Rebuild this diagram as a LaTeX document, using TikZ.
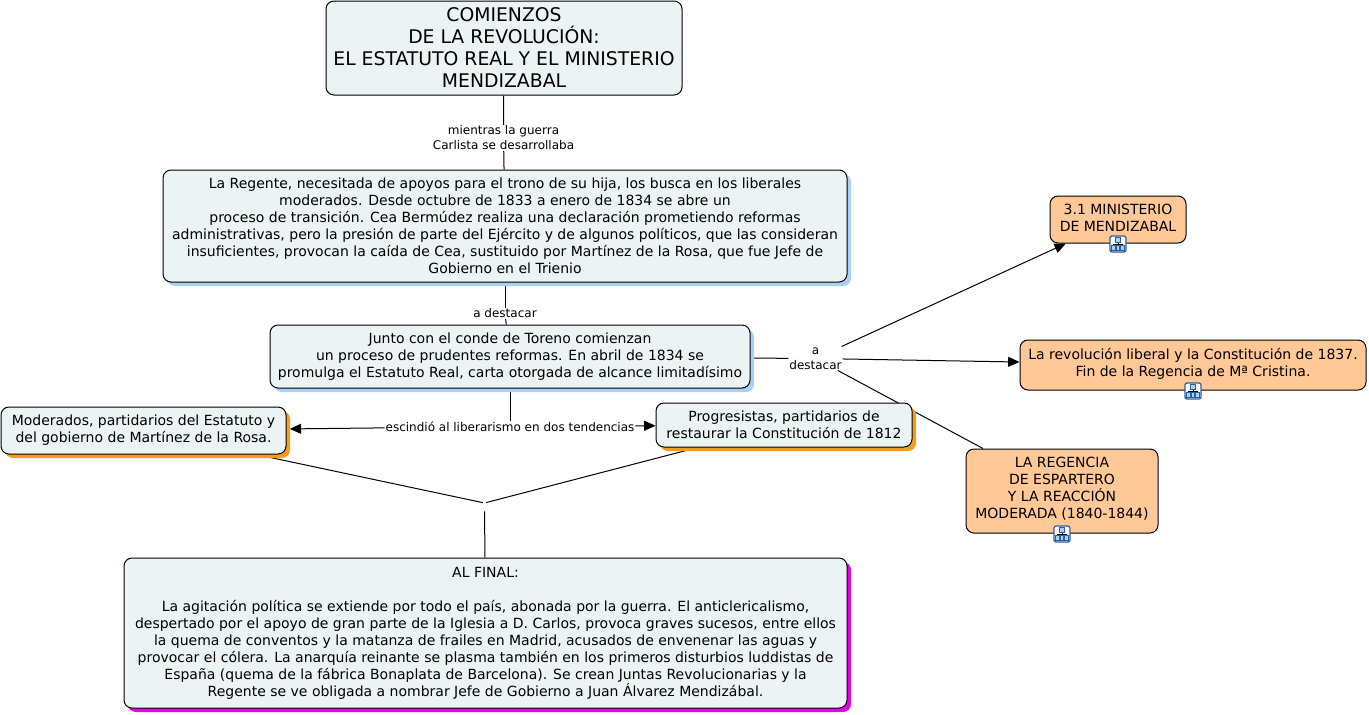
\documentclass[tikz,border=0pt]{standalone}
\usepackage{fontspec}
\setmainfont{DejaVu Sans}
\usetikzlibrary{arrows.meta,shadows,backgrounds}
\definecolor{boxgrey}{HTML}{ECF3F5}
\definecolor{boxpeach}{HTML}{FFC896}
\definecolor{shadeblue}{HTML}{A9D0F5}
\definecolor{shadeorange}{HTML}{F59E1B}
\definecolor{shademagenta}{HTML}{E400E4}
\definecolor{iconblue}{HTML}{2F5F9A}
\definecolor{iconpale}{HTML}{A9D0F5}
\tikzset{
  concept/.style={draw=black,line width=0.75pt,rounded corners=6pt,inner sep=0pt,align=center,font=\fontsize{10.5}{12.75}\selectfont},
  greybox/.style={concept,fill=boxgrey},
  peachbox/.style={concept,fill=boxpeach},
  blueshade/.style={general shadow={fill=shadeblue,shadow xshift=3pt,shadow yshift=-3pt}},
  orangeshade/.style={general shadow={fill=shadeorange,shadow xshift=3pt,shadow yshift=-3pt}},
  magentashade/.style={general shadow={fill=shademagenta,shadow xshift=3pt,shadow yshift=-3pt}},
  linklabel/.style={fill=white,inner sep=0.6pt,align=center,font=\fontsize{9}{11.25}\selectfont},
  link/.style={line width=0.75pt},
  arrowlink/.style={link,-{Triangle[length=8.5pt,width=7.5pt]}},
  treeicon/.pic={
    \draw[iconblue,fill=white,rounded corners=1.5pt,line width=0.9pt] (-8,-8) rectangle (8,8);
    \draw[black,line width=0.5pt] (0,-3) -- (0,3) (-4.5,3) -- (-4.5,0) -- (4.5,0) -- (4.5,3);
    \filldraw[fill=iconpale,draw=iconblue,line width=0.5pt] (-2.2,-6.5) rectangle (2.2,-2);
    \filldraw[fill=iconpale,draw=iconblue,line width=0.5pt] (-6.5,1.5) rectangle (-2.7,6);
    \filldraw[fill=iconpale,draw=iconblue,line width=0.5pt] (-1.8,1.5) rectangle (1.8,6);
    \filldraw[fill=iconpale,draw=iconblue,line width=0.5pt] (2.7,1.5) rectangle (6.5,6);
  }
}
\begin{document}
\begin{tikzpicture}[x=0.75pt,y=-0.75pt]
\useasboundingbox (0,0) rectangle (1369,714);
% boxes
\node[greybox,minimum width=267pt,minimum height=70.5pt,font=\fontsize{14.1}{16.5}\selectfont] (title) at (504,48) {COMIENZOS\\DE LA REVOLUCIÓN:\\EL ESTATUTO REAL Y EL MINISTERIO\\MENDIZABAL};
\node[greybox,blueshade,minimum width=513pt,minimum height=84pt] (regente) at (505,226) {La Regente, necesitada de apoyos para el trono de su hija, los busca en los liberales\\moderados. Desde octubre de 1833 a enero de 1834 se abre un\\proceso de transición. Cea Bermúdez realiza una declaración prometiendo reformas\\administrativas, pero la presión de parte del Ejército y de algunos políticos, que las consideran\\insuficientes, provocan la caída de Cea, sustituido por Martínez de la Rosa, que fue Jefe de\\Gobierno en el Trienio};
\node[greybox,blueshade,minimum width=360pt,minimum height=47.25pt] (junto) at (510,356.5) {Junto con el conde de Toreno comienzan\\un proceso de prudentes reformas. En abril de 1834 se\\promulga el Estatuto Real, carta otorgada de alcance limitadísimo};
\node[greybox,orangeshade,minimum width=213.75pt,minimum height=35.25pt] (moderados) at (143.5,430.5) {Moderados, partidarios del Estatuto y\\del gobierno de Martínez de la Rosa.};
\node[greybox,orangeshade,minimum width=192pt,minimum height=33pt] (progresistas) at (784,425) {Progresistas, partidarios de\\restaurar la Constitución de 1812};
\node[greybox,magentashade,minimum width=542.25pt,minimum height=112.5pt] (alfinal) at (485.5,633) {AL FINAL:\\[12.75pt]La agitación política se extiende por todo el país, abonada por la guerra. El anticlericalismo,\\despertado por el apoyo de gran parte de la Iglesia a D. Carlos, provoca graves sucesos, entre ellos\\la quema de conventos y la matanza de frailes en Madrid, acusados de envenenar las aguas y\\provocar el cólera. La anarquía reinante se plasma también en los primeros disturbios luddistas de\\España (quema de la fábrica Bonaplata de Barcelona). Se crean Juntas Revolucionarias y la\\Regente se ve obligada a nombrar Jefe de Gobierno a Juan Álvarez Mendizábal.};
\node[peachbox,minimum width=102pt,minimum height=35.25pt] (ministerio) at (1118,219.5) {3.1 MINISTERIO\\DE MENDIZABAL\\[-9.75pt]};
\node[peachbox,minimum width=259.5pt,minimum height=37.5pt] (revolucion) at (1193,365) {La revolución liberal y la Constitución de 1837.\\Fin de la Regencia de Mª Cristina.\\[-8.25pt]};
\node[peachbox,minimum width=144pt,minimum height=63pt] (espartero) at (1062,491) {LA REGENCIA\\DE ESPARTERO\\Y LA REACCIÓN\\MODERADA (1840-1844)\\[-7.5pt]};
% link labels
\node[linklabel] (guerra) at (503.5,138) {mientras la guerra\\Carlista se desarrollaba};
\node[linklabel] (destacar) at (505,313.5) {a destacar};
\node[linklabel] (escindio) at (510,426.5) {escindió al liberarismo en dos tendencias};
\node[linklabel] (destacardos) at (815.5,358.5) {a\\destacar};
\node[fill=white,inner sep=0pt,minimum width=2pt,minimum height=12pt] (juntura) at (484.5,503) {};
% connectors
\begin{scope}[on background layer]
\draw[link] (title) -- (guerra);
\draw[link] (guerra) -- (regente);
\draw[link] (regente) -- (destacar);
\draw[link] (destacar) -- (junto);
\draw[link] (junto) -- (escindio);
\draw[arrowlink,shorten >=2.5pt] (escindio) -- (moderados);
\draw[arrowlink] (escindio) -- (progresistas);
\draw[link] (junto) -- (destacardos);
\draw[arrowlink] (destacardos) -- (ministerio);
\draw[arrowlink] (destacardos) -- (revolucion);
\draw[link] (destacardos) -- (espartero);
\draw[link] (moderados) -- (juntura);
\draw[link] (progresistas) -- (juntura);
\draw[link] (juntura) -- (alfinal);
\end{scope}
% icons
\pic at (1118,244) {treeicon};
\pic at (1193,391) {treeicon};
\pic at (1062,534) {treeicon};
\end{tikzpicture}
\end{document}
